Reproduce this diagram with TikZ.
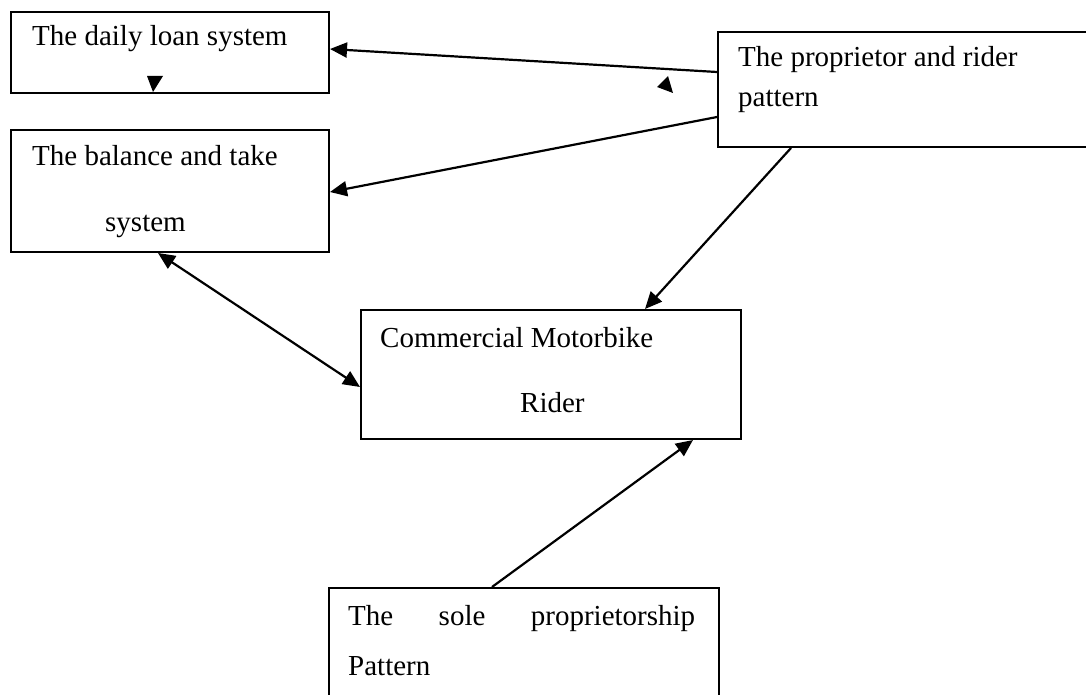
\documentclass[tikz,border=0pt]{standalone}
\usepackage{fontspec}
\setmainfont{Liberation Serif}
\usetikzlibrary{arrows.meta}
\begin{document}
\begin{tikzpicture}[x=1pt,y=-1pt,
  box/.style={draw,line width=2pt,rectangle,inner sep=0pt,anchor=north west},
  txt/.style={anchor=base west,inner sep=0pt,font=\fontsize{29}{34}\selectfont},
  conn/.style={line width=2.2pt,-{Triangle[length=17pt,width=15pt]}},
  dconn/.style={line width=2.2pt,{Triangle[length=17pt,width=15pt]}-{Triangle[length=17pt,width=15pt]}},
  tri/.style={fill=black}]
\useasboundingbox (0,0) rectangle (1086,695);
\begin{scope}
\clip (0,0) rectangle (1086,695);
\node[box,minimum width=318pt,minimum height=81pt] (A) at (10,11) {};
\node[box,minimum width=318pt,minimum height=122pt] (B) at (10,129) {};
\node[box,minimum width=380pt,minimum height=115pt] (C) at (717,31) {};
\node[box,minimum width=380pt,minimum height=129pt] (D) at (360,309) {};
\node[box,minimum width=390pt,minimum height=130pt] (E) at (328,587) {};

\node[txt] (ta) at (32,46) {The daily loan system};
\node[txt] (tb1) at (32,166) {The balance and take};
\node[txt] (tb2) at (105,231) {system};
\node[txt] (tc1) at (738,67) {The proprietor and rider};
\node[txt] (tc2) at (738,107) {pattern};
\node[txt] (td1) at (380,347) {Commercial Motorbike};
\node[txt] (td2) at (520,412) {Rider};
\node[txt] (te1) at (348,625) {\hbox to 347pt{The\hfill sole\hfill proprietorship}};
\node[txt] (te2) at (348,675) {Pattern};

\draw[conn] (C.west |- 0,72) -- (A.east |- 0,49);
\draw[conn] (C.west |- 0,117) -- (B.east |- 0,192);
\draw[conn] (C.south -| 791,0) -- (D.north -| 645,0);
\draw[dconn] (B.south -| 158,0) -- (D.west |- 0,387);
\draw[conn] (E.north -| 492,0) -- (D.south -| 693,0);

\fill[tri] (147,76) -- (163,76) -- (153,92) -- cycle;
\fill[tri] (657,87) -- (668,76) -- (673,93) -- cycle;
\end{scope}
\end{tikzpicture}
\end{document}
